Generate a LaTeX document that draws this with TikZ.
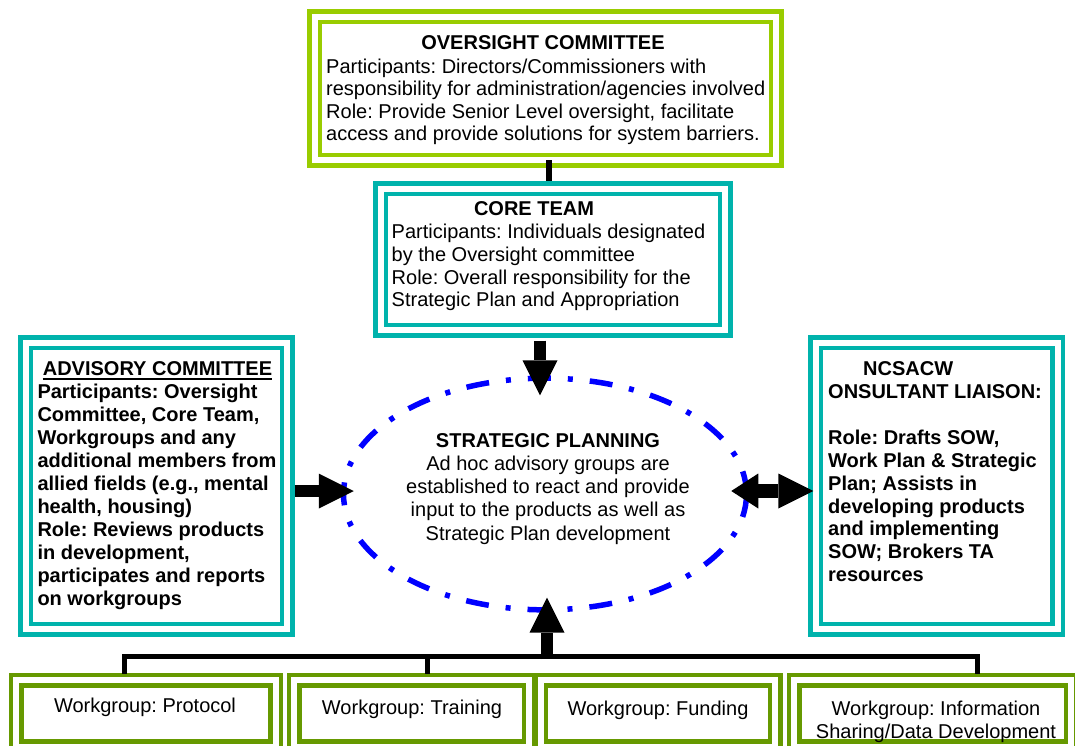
\documentclass[tikz,border=0pt]{standalone}
\usepackage{fontspec}
\setmainfont{Liberation Sans}
\usetikzlibrary{arrows.meta,shapes.geometric}
\definecolor{limeG}{RGB}{153,204,0}
\definecolor{tealG}{RGB}{0,179,172}
\definecolor{oliveG}{RGB}{102,153,0}
\frenchspacing
\begin{document}
\begin{tikzpicture}[x=1pt,y=-1pt,
  dblbox/.style={rectangle, draw=#1, double=white, double distance=6pt, line width=4.5pt, inner sep=0pt},
  txt/.style={inner sep=0pt, font=\fontsize{20}{#1}\selectfont},
  txt/.default=22.6,
  btxt/.style={inner sep=0pt, font=\fontsize{20}{#1}\selectfont\bfseries},
  btxt/.default=22.6,
  fat/.style={line width=12pt, -{Triangle[width=35pt,length=35pt,line width=0pt]}},
  bar/.style={line width=5pt},
  link/.style={line width=5.5pt}]
\fill[white] (0,0) rectangle (1075,746);
\useasboundingbox (0,0) rectangle (1075,746);

% boxes
\node[dblbox=limeG, minimum width=461.5pt, minimum height=143.5pt] (over) at (545.5,88.5) {};
\node[dblbox=tealG, minimum width=344.5pt, minimum height=141.5pt] (core) at (553,259.5) {};
\node[dblbox=tealG, minimum width=261.5pt, minimum height=286.5pt] (adv) at (156.5,486) {};
\node[dblbox=tealG, minimum width=242pt, minimum height=286.5pt] (ncs) at (936.5,486) {};
\node[dblbox=oliveG, minimum width=259.5pt, minimum height=66.5pt] (wg1) at (145.75,713.25) {};
\node[dblbox=oliveG, minimum width=234.9pt, minimum height=66.5pt] (wg2) at (411.75,713.25) {};
\node[dblbox=oliveG, minimum width=234.6pt, minimum height=66.5pt] (wg3) at (658,713.25) {};
\node[dblbox=oliveG, minimum width=277pt, minimum height=66.5pt] (wg4) at (932.5,713.25) {};

% ellipse
\node[ellipse, draw=blue, line width=5.5pt, dash pattern=on 23pt off 17pt on 5pt off 17pt,
      minimum width=403pt, minimum height=231.7pt, inner sep=0pt] (ell) at (545,494) {};

% texts
\node[btxt, anchor=base] (overH) at (543,50) {OVERSIGHT COMMITTEE};
\node[txt=22.5, anchor=north west, align=left] (overT) at (326,57.25)
  {\strut Participants: Directors/Commissioners with\\responsibility for administration/agencies involved\\Role: Provide Senior Level oversight, facilitate\\access and provide solutions for system barriers.};

\node[btxt, anchor=base] (coreH) at (534,215) {CORE TEAM};
\node[txt=22.8, anchor=north west, align=left] (coreT) at (391.5,222.3)
  {\strut Participants: Individuals designated\\by the Oversight committee\\Role: Overall responsibility for the\\Strategic Plan and Appropriation};

\node[txt=23.2, anchor=north, align=center] (ellT) at (548,430.8)
  {\strut\textbf{STRATEGIC PLANNING}\\Ad hoc advisory groups are\\established to react and provide\\input to the products as well as\\Strategic Plan development};

\node[btxt, anchor=base] (advH) at (157.5,375) {ADVISORY COMMITTEE};
\draw[line width=2pt] ([yshift=-4pt]advH.base west) -- ([yshift=-4pt]advH.base east);
\node[btxt=23.04, anchor=north west, align=left] (advT) at (37.3,382.2)
  {\strut Participants: Oversight\\Committee, Core Team,\\Workgroups and any\\additional members from\\allied fields (e.g., mental\\health, housing)\\Role: Reviews products\\in development,\\participates and reports\\on workgroups};

\node[btxt=22.97, anchor=north west, align=left] (ncsT) at (828,358.9)
  {\strut\hspace*{35pt}NCSACW\\ONSULTANT LIAISON:\\[22.97pt]Role: Drafts SOW,\\Work Plan \& Strategic\\Plan; Assists in\\developing products\\and implementing\\SOW; Brokers TA\\resources};

\node[txt, anchor=base] (wg1T) at (145,712) {Workgroup: Protocol};
\node[txt, anchor=base] (wg2T) at (412,714.5) {Workgroup: Training};
\node[txt, anchor=base] (wg3T) at (658,715) {Workgroup: Funding};
\node[txt=23, anchor=north, align=center] (wg4T) at (936,698.9)
  {\strut Workgroup: Information\\Sharing/Data Development};

% connectors
\draw[link] ([xshift=3.5pt,yshift=2pt]over.south) -- ([xshift=-4pt,yshift=5.75pt]core.north);
\draw[fat] ([xshift=-13pt,yshift=-8pt]core.south) -- ([xshift=-5pt,yshift=-20pt]ell.north);
\draw[fat] ([xshift=5pt,yshift=-5pt]adv.east) -- ([xshift=13pt,yshift=3pt]ell.west);
\draw[line width=14pt, {Triangle[width=35pt,length=27pt,line width=0pt]}-{Triangle[width=35pt,length=35pt,line width=0pt]}]
  ([xshift=-18pt,yshift=3pt]ell.east) -- ([yshift=-5pt]ncs.west);

\draw[bar] ([xshift=-21pt,yshift=4pt]wg1.north) -- ++(0,-17) -| ([xshift=45pt,yshift=4pt]wg4.north);
\draw[bar] ([xshift=15.75pt,yshift=4pt]wg2.north) -- ++(0,-17);
\coordinate (hub) at (547,659);
\draw[fat] (hub) -- ([xshift=2pt,yshift=15pt]ell.south);
\end{tikzpicture}
\end{document}
